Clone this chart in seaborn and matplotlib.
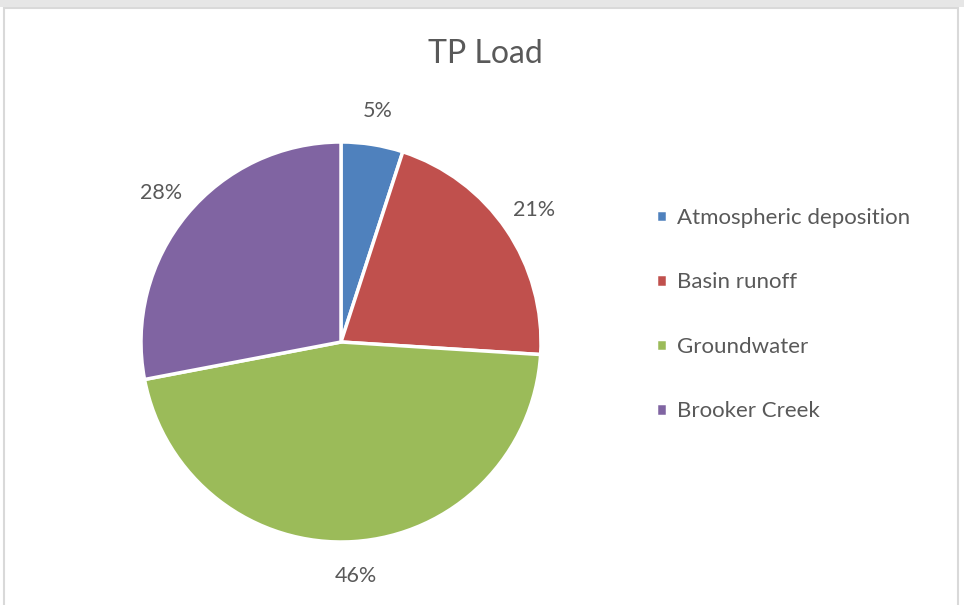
import matplotlib
matplotlib.use("Agg")
import matplotlib.pyplot as plt
import seaborn as sns
from matplotlib.patches import Rectangle

# Chart data
sources = ["Atmospheric deposition", "Basin runoff", "Groundwater", "Brooker Creek"]
shares = [5, 21, 46, 28]
title = "TP Load"

sns.set_theme(style="white")
plt.rcParams["font.family"] = ["Lato", "DejaVu Sans"]

palette = sns.color_palette(["#4F81BD", "#C0504D", "#9BBB59", "#8064A2"])
text_grey = "#595959"

fig = plt.figure(figsize=(9.64, 6.05), dpi=100)
fig.patch.set_facecolor("white")

# outer chart frame like the office export
fig.patches.append(Rectangle((4 / 964, -0.01), 954 / 964, (605 - 8) / 605 + 0.01,
                             transform=fig.transFigure, fill=False,
                             edgecolor="#D9D9D9", linewidth=1.5))
fig.patches.append(Rectangle((0, (605 - 7) / 605), 1, 7 / 605,
                             transform=fig.transFigure, facecolor="#E6E6E6",
                             edgecolor="none"))

ax = fig.add_axes([141 / 964, 63 / 605, 400 / 964, 400 / 605])
wedges, _, autotexts = ax.pie(
    shares,
    colors=palette,
    startangle=90,
    counterclock=False,
    autopct=lambda p: f"{p:.0f}%",
    pctdistance=1.17,
    wedgeprops=dict(edgecolor="white", linewidth=2.5),
    textprops=dict(color=text_grey, fontsize=15.5),
)
ax.set_xlim(-1, 1)
ax.set_ylim(-1, 1)
ax.set_aspect("equal")
ax.axis("off")
for t in autotexts:
    t.set_clip_on(False)

fig.text(485 / 964, 1 - 54 / 605, title, ha="center", va="center",
         fontsize=23, color=text_grey)

leg = fig.legend(
    wedges, sources,
    loc="upper left",
    bbox_to_anchor=(636 / 964, 1 - 188 / 605),
    frameon=False,
    fontsize=16,
    handlelength=0.5,
    handleheight=0.5,
    handletextpad=0.45,
    labelspacing=2.0,
    labelcolor=text_grey,
)

fig.savefig("out.png", dpi=100, facecolor="white")
